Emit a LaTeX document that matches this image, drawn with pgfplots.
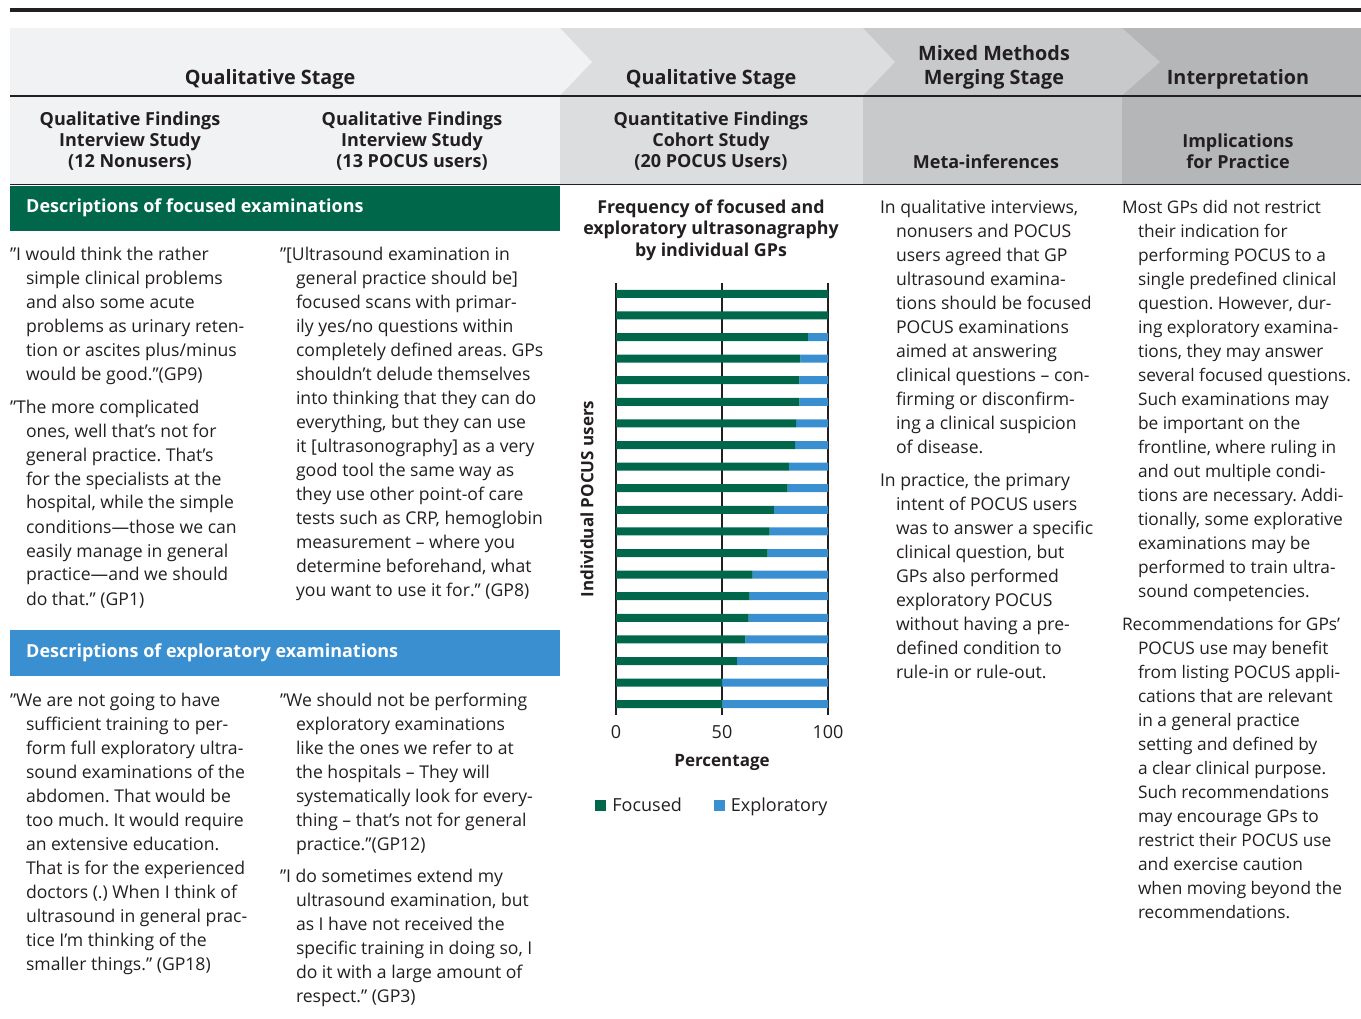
\documentclass[border=0pt]{standalone}
\usepackage{fontspec}
\setmainfont{Open Sans}
\usepackage{pgfplots}
\usepackage{pgfplotstable}
\pgfplotsset{compat=1.18}
\definecolor{gfoc}{HTML}{00674A}
\definecolor{bexp}{HTML}{3A8FD0}
\definecolor{hA}{HTML}{F1F2F3}
\definecolor{hB}{HTML}{DCDDDF}
\definecolor{hC}{HTML}{C8C9CB}
\definecolor{hD}{HTML}{B5B6B8}
\definecolor{txt}{HTML}{231F20}

\pgfplotstableread{
u foc exp
20 100 0
19 100 0
18 90.5 9.5
17 87 13
16 86.5 13.5
15 86.5 13.5
14 85 15
13 84.5 15.5
12 81.5 18.5
11 81 19
10 74.5 25.5
9 72.5 27.5
8 71.5 28.5
7 64.5 35.5
6 63 37
5 62.5 37.5
4 61 39
3 57 43
2 50 50
1 50 50
}\gpdata

\frenchspacing
\newcommand\hdfont{\bfseries\fontsize{19.8}{24}\selectfont}
\newcommand\hdsfont{\bfseries\fontsize{18}{21}\selectfont}
\newcommand\blk[4][17.6]{\node[anchor=base west, inner sep=0pt, outer sep=0pt, text=txt] at (#2,#3)
  {\fontsize{#1}{24}\selectfont\vtop{\hsize=420pt\parindent=0pt\rightskip=0pt plus 1fil\relax
   \hangindent=16pt\hangafter=1\noindent #4\par}};}

\begin{document}
\begin{tikzpicture}
\begin{scope}[x=1pt,y=1pt]
\path[use as bounding box] (0,0) rectangle (1361,-1019);
% top rule
\fill[txt] (10,-8) rectangle (1361,-12);
% header rows
\fill[hA] (10,-28) rectangle (560,-184);
\fill[hB] (560,-28) rectangle (863,-184);
\fill[hC] (863,-28) rectangle (1122,-184);
\fill[hD] (1122,-28) rectangle (1361,-184);
\fill[hA] (560,-28) -- (592,-62) -- (560,-95.5) -- cycle;
\fill[hB] (863,-28) -- (895,-62) -- (863,-95.5) -- cycle;
\fill[hC] (1122,-28) -- (1160,-62) -- (1122,-95.5) -- cycle;
\draw[txt, line width=1.4pt] (10,-96) -- (1361,-96);
\draw[txt, line width=1.4pt] (10,-184.5) -- (1361,-184.5);
% header texts
\node[font=\hdfont, text=txt] at (270,-79.5) {Qualitative Stage};
\node[font=\hdfont, text=txt] at (711,-79.5) {Qualitative Stage};
\node[font=\hdfont, text=txt, align=center] at (994,-67.5) {Mixed Methods\\Merging Stage};
\node[font=\hdfont, text=txt] at (1238,-79.5) {Interpretation};
\node[font=\hdsfont, text=txt, align=center] at (130,-141) {Qualitative Findings\\Interview Study\\(12 Nonusers)};
\node[font=\hdsfont, text=txt, align=center] at (412,-141) {Qualitative Findings\\Interview Study\\(13 POCUS users)};
\node[font=\hdsfont, text=txt, align=center] at (711,-141) {Quantitative Findings\\Cohort Study\\(20 POCUS Users)};
\node[font=\hdsfont, text=txt] at (986,-162) {Meta-inferences};
\node[font=\hdsfont, text=txt, align=center] at (1238,-151) {Implications\\for Practice};
% banners
\fill[gfoc] (10,-186) rectangle (560,-231);
\node[anchor=west, font=\hdsfont, text=white, inner sep=0pt] at (26,-208) {Descriptions of focused examinations};
\fill[bexp] (10,-630) rectangle (560,-676);
\node[anchor=west, font=\hdsfont, text=white, inner sep=0pt] at (26,-653) {Descriptions of exploratory examinations};
% chart title
\node[font=\bfseries\fontsize{17.8}{21.5}\selectfont, text=txt, align=center] at (711,-230) {Frequency of focused and\\exploratory ultrasonagraphy\\by individual GPs};
% column 1
\blk{10}{-261}{”I would think the rather\newline simple clinical problems\newline and also some acute\newline problems as urinary reten-\newline tion or ascites plus/minus\newline would be good.”(GP9)}
\blk{10}{-413}{”The more complicated\newline ones, well that’s not for\newline general practice. That’s\newline for the specialists at the\newline hospital, while the simple\newline conditions—those we can\newline easily manage in general\newline practice—and we should\newline do that.” (GP1)}
% column 2
\blk{280}{-261}{”[Ultrasound examination in\newline general practice should be]\newline focused scans with primar-\newline ily yes/no questions within\newline completely defined areas. GPs\newline shouldn’t delude themselves\newline into thinking that they can do\newline everything, but they can use\newline it [ultrasonography] as a very\newline good tool the same way as\newline they use other point-of care\newline tests such as CRP, hemoglobin\newline measurement – where you\newline determine beforehand, what\newline you want to use it for.” (GP8)}
% column 1 bottom
\blk{10}{-706}{”We are not going to have\newline sufficient training to per-\newline form full exploratory ultra-\newline sound examinations of the\newline abdomen. That would be\newline too much. It would require\newline an extensive education.\newline That is for the experienced\newline doctors (.) When I think of\newline ultrasound in general prac-\newline tice I’m thinking of the\newline smaller things.” (GP18)}
% column 2 bottom
\blk{280}{-706}{”We should not be performing\newline exploratory examinations\newline like the ones we refer to at\newline the hospitals – They will\newline systematically look for every-\newline thing – that’s not for general\newline practice.”(GP12)}
\blk{280}{-882}{”I do sometimes extend my\newline ultrasound examination, but\newline as I have not received the\newline specific training in doing so, I\newline do it with a large amount of\newline respect.” (GP3)}
% column 4
\blk{880}{-214}{In qualitative interviews,\newline nonusers and POCUS\newline users agreed that GP\newline ultrasound examina-\newline tions should be focused\newline POCUS examinations\newline aimed at answering\newline clinical questions – con-\newline firming or disconfirm-\newline ing a clinical suspicion\newline of disease.}
\blk{880}{-486}{In practice, the primary\newline intent of POCUS users\newline was to answer a specific\newline clinical question, but\newline GPs also performed\newline exploratory POCUS\newline without having a pre-\newline defined condition to\newline rule-in or rule-out.}
% column 5
\blk[17.3]{1122}{-214}{Most GPs did not restrict\newline their indication for\newline performing POCUS to a\newline single predefined clinical\newline question. However, dur-\newline ing exploratory examina-\newline tions, they may answer\newline several focused questions.\newline Such examinations may\newline be important on the\newline frontline, where ruling in\newline and out multiple condi-\newline tions are necessary. Addi-\newline tionally, some explorative\newline examinations may be\newline performed to train ultra-\newline sound competencies.}
\blk[17.3]{1122}{-630}{Recommendations for GPs’\newline POCUS use may benefit\newline from listing POCUS appli-\newline cations that are relevant\newline in a general practice\newline setting and defined by\newline a clear clinical purpose.\newline Such recommendations\newline may encourage GPs to\newline restrict their POCUS use\newline and exercise caution\newline when moving beyond the\newline recommendations.}
\end{scope}

\begin{axis}[
  at={(616pt,-715pt)}, anchor=south west,
  scale only axis, width=212pt, height=432pt,
  xbar stacked, bar width=8pt,
  xmin=0, xmax=100, ymin=0.5, ymax=20.5,
  axis line style={draw=none},
  ytick=\empty, xtick={0,50,100},
  xmajorgrids, grid style={draw=txt, line width=1.1pt},
  major tick length=0pt,
  /pgf/number format/assume math mode=true,
  tick label style={font=\fontsize{18}{20}\selectfont, text=txt},
  xticklabel style={anchor=center, yshift=-17pt},
  xlabel={Percentage},
  xlabel style={font=\bfseries\fontsize{17}{20}\selectfont, text=txt, at={(axis description cs:0.5,-0.111)}, anchor=center},
  ylabel={Individual POCUS users},
  ylabel style={font=\bfseries\fontsize{17}{20}\selectfont, text=txt, at={(axis description cs:-0.137,0.5)}, anchor=center},
  legend style={at={(axis description cs:0.455,-0.21)}, anchor=center, draw=none, fill=none,
    legend columns=2, font=\fontsize{18}{20}\selectfont, text=txt,
    /tikz/every odd column/.append style={column sep=4pt},
    /tikz/every even column/.append style={column sep=30pt}},
]
\addplot[fill=gfoc, draw=none, legend image code/.code={\fill[gfoc] (0pt,-5.5pt) rectangle (11pt,5.5pt);}] table[x=foc,y=u]{\gpdata};
\addplot[fill=bexp, draw=none, legend image code/.code={\fill[bexp] (0pt,-5.5pt) rectangle (11pt,5.5pt);}] table[x=exp,y=u]{\gpdata};
\legend{Focused, Exploratory}
\end{axis}
\end{tikzpicture}
\end{document}
